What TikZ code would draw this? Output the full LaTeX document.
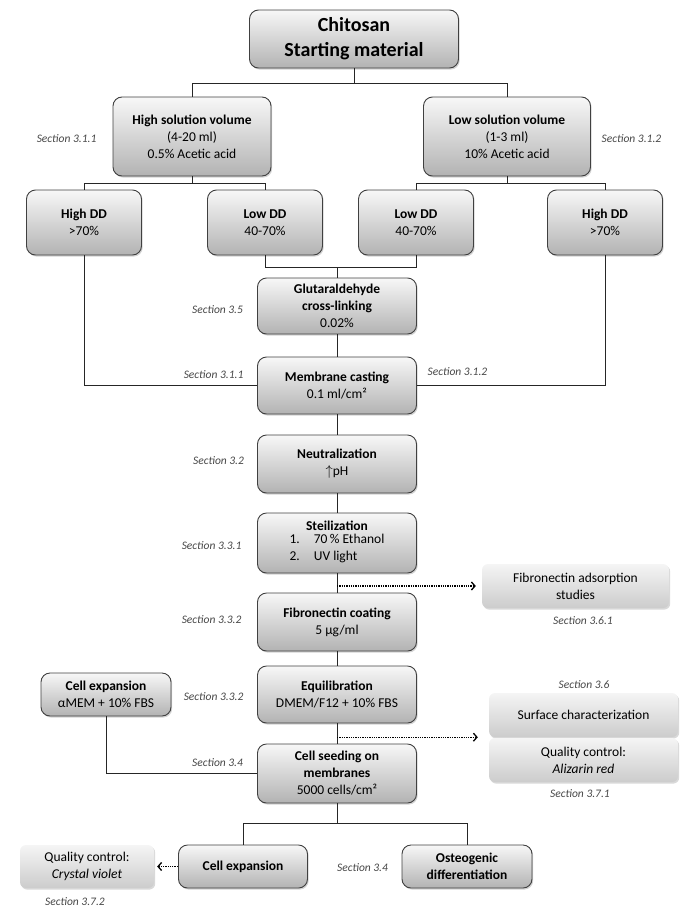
\documentclass[tikz,border=0pt]{standalone}
\usepackage{fontspec}
\setmainfont{Carlito}
\usetikzlibrary{shapes,arrows.meta,shadows,positioning}

\begin{document}
\begin{tikzpicture}[x=1pt,y=1pt]

\tikzstyle{block} = [draw=black!75, line width=0.9pt, rounded corners=9pt, top color=black!3, bottom color=black!30, drop shadow={shadow xshift=1.2pt, shadow yshift=-1.6pt, opacity=0.35}, inner sep=2pt, font=\fontsize{13.5}{17}\selectfont]
\tikzstyle{sidebox} = [rounded corners=6pt, top color=black!4, bottom color=black!20, drop shadow={shadow xshift=1.2pt, shadow yshift=-1.6pt, opacity=0.3}, inner sep=2pt, font=\fontsize{13.5}{17}\selectfont]
\tikzstyle{seclabel} = [text=black!72, font=\fontsize{11.5}{13}\selectfont\itshape]
\tikzstyle{line} = [draw=black!85, line width=0.8pt]
\tikzstyle{dotarrow} = [draw=black, line width=1.3pt, densely dotted, -{Straight Barb[length=3.5pt,width=8pt]}]

\coordinate (anchor) at (0,0);
\useasboundingbox (anchor) rectangle +(685,-913);

%Starting material: top

\path (anchor)+(354,-39) node (chitosan) [block, minimum width=209pt, minimum height=58pt, font=\fontsize{20}{25}\selectfont] {\begin{minipage}[c]{200pt}
	\centering
	\textbf{Chitosan}\\
	\textbf{Starting material}
\end{minipage}};

%Solution volume

\path (chitosan)+(-162,-97.5) node (high_vol) [block, minimum width=158pt, minimum height=79pt] {\begin{minipage}[c]{150pt}
	\centering
	\textbf{High solution volume}\\
	(4-20 ml)\\
	0.5\% Acetic acid
\end{minipage}};

\path (chitosan)+(153,-97.5) node (low_vol) [block, minimum width=167pt, minimum height=79pt] {\begin{minipage}[c]{155pt}
	\centering
	\textbf{Low solution volume}\\
	(1-3 ml)\\
	10\% Acetic acid
\end{minipage}};

\path (high_vol.west)+(-46,-2.5) node (sec_high_vol) [seclabel] {Section 3.1.1};
\path (low_vol.east)+(40.5,-2.5) node (sec_low_vol) [seclabel] {Section 3.1.2};

%Degree of deacetylation

\path (high_vol)+(-108,-86) node (high_dd_l) [block, minimum width=115pt, minimum height=65pt] {\begin{minipage}[c]{105pt}
	\centering
	\textbf{High DD}\\
	>70\%
\end{minipage}};

\path (high_vol)+(73,-86) node (low_dd_l) [block, minimum width=115pt, minimum height=65pt] {\begin{minipage}[c]{105pt}
	\centering
	\textbf{Low DD}\\
	40-70\%
\end{minipage}};

\path (low_vol)+(-91,-86) node (low_dd_r) [block, minimum width=115pt, minimum height=65pt] {\begin{minipage}[c]{105pt}
	\centering
	\textbf{Low DD}\\
	40-70\%
\end{minipage}};

\path (low_vol)+(98,-86) node (high_dd_r) [block, minimum width=115pt, minimum height=65pt] {\begin{minipage}[c]{105pt}
	\centering
	\textbf{High DD}\\
	>70\%
\end{minipage}};

%Main column

\path (low_dd_l)+(72,-83.5) node (glut) [block, minimum width=159pt, minimum height=56pt] {\begin{minipage}[c]{150pt}
	\centering
	\textbf{Glutaraldehyde}\\
	\textbf{cross-linking}\\
	0.02\%
\end{minipage}};

\path (glut)+(0,-79.5) node (casting) [block, minimum width=159pt, minimum height=57pt] {\begin{minipage}[c]{150pt}
	\centering
	\textbf{Membrane casting}\\
	0.1 ml/cm²
\end{minipage}};

\path (casting)+(0,-78.5) node (neutral) [block, minimum width=159pt, minimum height=58pt] {\begin{minipage}[c]{150pt}
	\centering
	\textbf{Neutralization}\\
	$\uparrow$pH
\end{minipage}};

\path (neutral)+(0,-79) node (steril) [block, minimum width=159pt, minimum height=60pt] {\begin{minipage}[c]{150pt}
	\centering
	\textbf{Steilization}\\
	\begin{tabular}{@{}l@{\hspace{14pt}}l@{}}
	1. & 70\,\% Ethanol\\
	2. & UV light
	\end{tabular}
\end{minipage}};

\path (steril)+(0,-79) node (fib_coat) [block, minimum width=159pt, minimum height=58pt] {\begin{minipage}[c]{150pt}
	\centering
	\textbf{Fibronectin coating}\\
	5 µg/ml
\end{minipage}};

\path (fib_coat)+(0,-72.5) node (equil) [block, minimum width=159pt, minimum height=57pt] {\begin{minipage}[c]{150pt}
	\centering
	\textbf{Equilibration}\\
	DMEM/F12 + 10\% FBS
\end{minipage}};

\path (equil)+(0,-79) node (seeding) [block, minimum width=159pt, minimum height=59pt] {\begin{minipage}[c]{150pt}
	\centering
	\textbf{Cell seeding on}\\
	\textbf{membranes}\\
	5000 cells/cm²
\end{minipage}};

\path (glut.west)+(-39.5,-4) node (sec_glut) [seclabel] {Section 3.5};
\path (casting.west)+(-43.5,10.5) node (sec_cast_l) [seclabel] {Section 3.1.1};
\path (casting.east)+(40.5,13.5) node (sec_cast_r) [seclabel] {Section 3.1.2};
\path (neutral.west)+(-38.5,3) node (sec_neutral) [seclabel] {Section 3.2};
\path (steril.west)+(-45.5,-3) node (sec_steril) [seclabel] {Section 3.3.1};
\path (fib_coat.west)+(-45.5,2) node (sec_fib_coat) [seclabel] {Section 3.3.2};
\path (equil.west)+(-43.5,-2.5) node (sec_equil) [seclabel] {Section 3.3.2};
\path (seeding.west)+(-39.5,10.5) node (sec_seeding) [seclabel] {Section 3.4};

%Cell expansion: left

\path (equil)+(-231,0) node (cell_exp_in) [block, minimum width=130pt, minimum height=43pt] {\begin{minipage}[c]{125pt}
	\centering
	\textbf{Cell expansion}\\
	αMEM + 10\% FBS
\end{minipage}};

%Characterization: right

\path (steril)+(238.5,-43) node (fib_ads) [sidebox, minimum width=187pt, minimum height=44pt] {\begin{minipage}[c]{180pt}
	\centering
	Fibronectin adsorption\\
	studies
\end{minipage}};

\path (equil)+(246.5,-20.5) node (surface) [sidebox, minimum width=189pt, minimum height=44pt] {Surface characterization};

\path (surface)+(0,-45) node (qc_alizarin) [sidebox, minimum width=189pt, minimum height=44pt] {\begin{minipage}[c]{180pt}
	\centering
	Quality control:\\
	\textit{Alizarin red}
\end{minipage}};

\path (fib_ads.south)+(7.5,-12) node (sec_fib_ads) [seclabel] {Section 3.6.1};
\path (surface.north)+(0.5,8) node (sec_surface) [seclabel] {Section 3.6};
\path (qc_alizarin.south)+(-3.5,-11) node (sec_alizarin) [seclabel] {Section 3.7.1};

%Outcome: bottom

\path (seeding)+(-94,-93) node (cell_exp_out) [block, minimum width=129pt, minimum height=43pt] {\textbf{Cell expansion}};

\path (seeding)+(130,-93) node (osteo) [block, minimum width=130pt, minimum height=43pt] {\begin{minipage}[c]{125pt}
	\centering
	\textbf{Osteogenic}\\
	\textbf{differentiation}
\end{minipage}};

\path (cell_exp_out)+(-156,0) node (qc_crystal) [sidebox, minimum width=134pt, minimum height=43pt] {\begin{minipage}[c]{128pt}
	\centering
	Quality control:\\
	\textit{Crystal violet}
\end{minipage}};

\path (osteo.west)+(-39,-1.5) node (sec_osteo) [seclabel] {Section 3.4};
\path (qc_crystal.south)+(-12,-13) node (sec_crystal) [seclabel] {Section 3.7.2};

%Lines

\draw [line] (chitosan.south) -- ++(0,-15) -| (high_vol.north);
\draw [line] (chitosan.south) -- ++(0,-15) -| (low_vol.north);

\draw [line] (high_vol.south) -- ++(0,-7) -| (high_dd_l.north);
\draw [line] (high_vol.south) -- ++(0,-7) -| (low_dd_l.north);
\draw [line] (low_vol.south) -- ++(0,-7) -| (low_dd_r.north);
\draw [line] (low_vol.south) -- ++(0,-7) -| (high_dd_r.north);

\draw [line] (low_dd_l.south) -- ++(0,-12) -| (low_dd_r.south);
\draw [line] (glut.north) -- ++(0,11);

\draw [line] (high_dd_l.south) |- (casting.west);
\draw [line] (high_dd_r.south) |- (casting.east);

\draw [line] (glut) -- (casting);
\draw [line] (casting.south) -- (neutral.north);
\draw [line] (neutral.south) -- (steril.north);
\draw [line] (steril) -- (fib_coat);
\draw [line] (fib_coat) -- (equil);
\draw [line] (equil) -- (seeding);

\draw [line] (cell_exp_in.south) |- (seeding.west);

\draw [line] (seeding.south) -- ++(0,-20) -| (cell_exp_out.north);
\draw [line] (seeding.south) -- ++(0,-20) -| (osteo.north);

%Dotted arrows

\draw [dotarrow] (steril.south |- fib_ads.west) -- ([xshift=-6pt]fib_ads.west);
\draw [dotarrow] (equil.south |- surface.south) -- ([xshift=-11pt]surface.south west);
\draw [dotarrow] (cell_exp_out.west) -- ([xshift=3pt]qc_crystal.east);

\end{tikzpicture}
\end{document}
